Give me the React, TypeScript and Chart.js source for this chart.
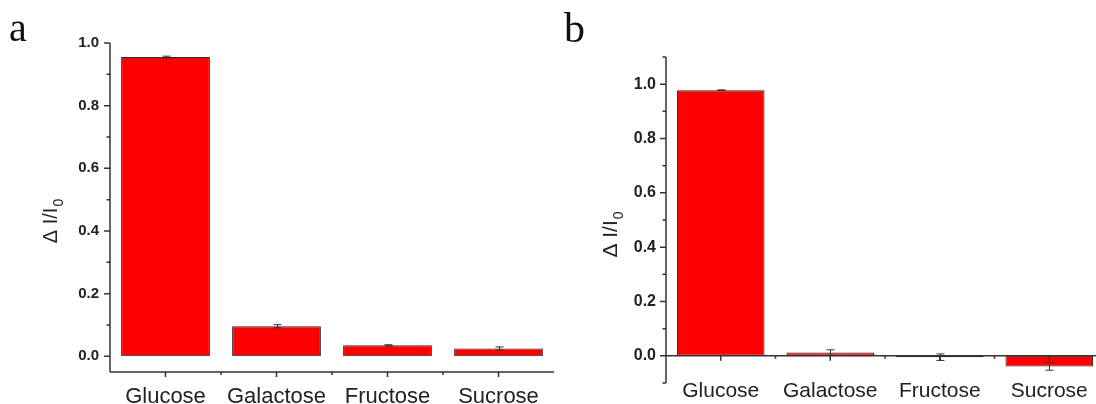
import React, { useEffect, useRef } from "react";
import { Chart, registerables } from "chart.js";

Chart.register(...registerables);

// ---- data ----
const CATEGORIES = ["Glucose", "Galactose", "Fructose", "Sucrose"];
const A_VALUES = [0.955, 0.096, 0.035, 0.025];
const A_ERRORS = [0.003, 0.005, 0.002, 0.005];
const B_VALUES = [0.978, 0.012, -0.005, -0.039];
const B_ERRORS = [0.001, 0.01, 0.012, 0.014];
const A_Y_TICKS = [0, 0.2, 0.4, 0.6, 0.8, 1.0];
const A_Y_MINOR = [0.1, 0.3, 0.5, 0.7, 0.9];
const B_Y_TICKS = [0, 0.2, 0.4, 0.6, 0.8, 1.0];
const B_Y_MINOR = [-0.1, 0.1, 0.3, 0.5, 0.7, 0.9, 1.1];
const Y_TITLE_MAIN = "\u0394 I/I";
const Y_TITLE_SUB = "0";

const SANS = "'Liberation Sans', Arial, sans-serif";
const SERIF = "'Liberation Serif', 'Times New Roman', serif";
const AXIS_COLOR = "#333";

type PanelCfg = {
  values: number[];
  errors: number[];
  yMin: number;
  yMax: number;
  yTicks: number[];
  yMinor: number[];
  xAxisAtZero: boolean;
  padTop: number;
  padRight: number;
  yWidth: number;
  xHeight: number;
  xLabelSize: number;
  xLabelBaseline: number;
  yLabelSize: number;
  yLabelPad: number;
  titleSize: number;
  titleDx: number;
  titleDy: number;
  panelLabel: string;
  panelX: number;
  panelY: number;
  panelSize: number;
};

function makePlugin(cfg: PanelCfg) {
  return {
    id: "sciDecor" + cfg.panelLabel,
    afterDatasetsDraw(chart: any) {
      const ctx = chart.ctx as CanvasRenderingContext2D;
      const area = chart.chartArea;
      const xs = chart.scales.x;
      const ys = chart.scales.y;
      ctx.save();
      // error bars
      const meta = chart.getDatasetMeta(0);
      ctx.strokeStyle = "#333";
      ctx.lineWidth = 1;
      cfg.values.forEach((v, i) => {
        const e = cfg.errors[i];
        const px = Math.round(meta.data[i].x) + 0.5;
        const t = ys.getPixelForValue(v + e);
        const b = ys.getPixelForValue(v - e);
        ctx.beginPath();
        ctx.moveTo(px, t);
        ctx.lineTo(px, b);
        ctx.moveTo(px - 4, t);
        ctx.lineTo(px + 4, t);
        ctx.moveTo(px - 4, b);
        ctx.lineTo(px + 4, b);
        ctx.stroke();
      });
      // axes
      ctx.strokeStyle = AXIS_COLOR;
      ctx.lineWidth = 1.5;
      const x0 = area.left;
      ctx.beginPath();
      ctx.moveTo(x0, area.top);
      ctx.lineTo(x0, area.bottom);
      cfg.yTicks.forEach((v) => {
        const p = ys.getPixelForValue(v);
        ctx.moveTo(x0 - 6, p);
        ctx.lineTo(x0, p);
      });
      cfg.yMinor.forEach((v) => {
        const p = ys.getPixelForValue(v);
        ctx.moveTo(x0 - 3.5, p);
        ctx.lineTo(x0, p);
      });
      const yAx = cfg.xAxisAtZero ? ys.getPixelForValue(0) : area.bottom;
      ctx.moveTo(area.left, yAx);
      ctx.lineTo(area.right, yAx);
      const n = CATEGORIES.length;
      for (let i = 0; i < n; i++) {
        const p = xs.getPixelForValue(i);
        ctx.moveTo(p, yAx);
        ctx.lineTo(p, yAx + 5);
        if (i < n - 1) {
          const m = (p + xs.getPixelForValue(i + 1)) / 2;
          ctx.moveTo(m, yAx);
          ctx.lineTo(m, yAx + 3);
        }
      }
      ctx.stroke();
      // category labels
      ctx.fillStyle = "#222";
      ctx.font = `${cfg.xLabelSize}px ${SANS}`;
      ctx.textAlign = "center";
      ctx.textBaseline = "alphabetic";
      CATEGORIES.forEach((c, i) => {
        ctx.fillText(c, xs.getPixelForValue(i), cfg.xLabelBaseline);
      });
      // y title
      ctx.font = `${cfg.titleSize}px ${SANS}`;
      const wMain = ctx.measureText(Y_TITLE_MAIN).width;
      const subSize = Math.round(cfg.titleSize * 0.68);
      ctx.font = `${subSize}px ${SANS}`;
      const wSub = ctx.measureText(Y_TITLE_SUB).width;
      const total = wMain + wSub;
      ctx.translate(area.left + cfg.titleDx, (area.top + area.bottom) / 2 + cfg.titleDy);
      ctx.rotate(-Math.PI / 2);
      ctx.textBaseline = "alphabetic";
      ctx.textAlign = "left";
      ctx.font = `${cfg.titleSize}px ${SANS}`;
      ctx.fillText(Y_TITLE_MAIN, -total / 2, 0);
      ctx.font = `${subSize}px ${SANS}`;
      ctx.fillText(Y_TITLE_SUB, -total / 2 + wMain + 1, cfg.titleSize * 0.28);
      ctx.restore();
      // panel label
      ctx.save();
      ctx.fillStyle = "#111";
      ctx.font = `${cfg.panelSize}px ${SERIF}`;
      ctx.textBaseline = "alphabetic";
      ctx.textAlign = "left";
      ctx.fillText(cfg.panelLabel, cfg.panelX, cfg.panelY);
      ctx.restore();
    },
  };
}

function buildChart(canvas: HTMLCanvasElement, cfg: PanelCfg) {
  return new Chart(canvas, {
    type: "bar",
    data: {
      labels: CATEGORIES,
      datasets: [
        {
          data: cfg.values,
          backgroundColor: "#ff0000",
          borderColor: "#2a2a2a",
          borderWidth: 1,
          borderSkipped: false,
          barPercentage: 0.8,
          categoryPercentage: 1,
        },
      ],
    },
    options: {
      animation: false,
      responsive: false,
      devicePixelRatio: 1,
      layout: { padding: { top: cfg.padTop, right: cfg.padRight, left: 0, bottom: 0 } },
      plugins: { legend: { display: false }, tooltip: { enabled: false }, title: { display: false } },
      scales: {
        x: {
          type: "category",
          grid: { display: false, drawTicks: false },
          border: { display: false },
          ticks: { display: false },
          afterFit: (s: any) => {
            s.height = cfg.xHeight;
          },
        },
        y: {
          type: "linear",
          min: cfg.yMin,
          max: cfg.yMax,
          grid: { display: false, drawTicks: false },
          border: { display: false },
          ticks: {
            color: "#222",
            font: { family: SANS, size: cfg.yLabelSize, weight: "bold" },
            padding: cfg.yLabelPad,
            callback: (v: any) => Math.abs(Number(v)).toFixed(1),
          },
          afterBuildTicks: (s: any) => {
            s.ticks = cfg.yTicks.map((v) => ({ value: v }));
          },
          afterFit: (s: any) => {
            s.width = cfg.yWidth;
          },
        },
      },
    },
    plugins: [makePlugin(cfg)],
  } as any);
}

const CFG_A: PanelCfg = {
  values: A_VALUES,
  errors: A_ERRORS,
  yMin: -0.05,
  yMax: 1.0,
  yTicks: A_Y_TICKS,
  yMinor: A_Y_MINOR,
  xAxisAtZero: false,
  padTop: 43,
  padRight: 6,
  yWidth: 110,
  xHeight: 32,
  xLabelSize: 22,
  xLabelBaseline: 403,
  yLabelSize: 15,
  yLabelPad: 11,
  titleSize: 20,
  titleDx: -53,
  titleDy: 14,
  panelLabel: "a",
  panelX: 9,
  panelY: 41,
  panelSize: 40,
};

const CFG_B: PanelCfg = {
  values: B_VALUES,
  errors: B_ERRORS,
  yMin: -0.1,
  yMax: 1.1,
  yTicks: B_Y_TICKS,
  yMinor: B_Y_MINOR,
  xAxisAtZero: true,
  padTop: 57,
  padRight: 16,
  yWidth: 106,
  xHeight: 21,
  xLabelSize: 21,
  xLabelBaseline: 397,
  yLabelSize: 16,
  yLabelPad: 10,
  titleSize: 21,
  titleDx: -49,
  titleDy: 15,
  panelLabel: "b",
  panelX: 4,
  panelY: 42,
  panelSize: 42,
};

export default function App() {
  const refA = useRef<HTMLCanvasElement | null>(null);
  const refB = useRef<HTMLCanvasElement | null>(null);
  useEffect(() => {
    const a = buildChart(refA.current!, CFG_A);
    const b = buildChart(refB.current!, CFG_B);
    return () => {
      a.destroy();
      b.destroy();
    };
  }, []);
  return (
    <div
      style={{
        position: "fixed",
        left: 0,
        top: 0,
        width: 1096,
        height: 404,
        overflow: "hidden",
        background: "#fff",
      }}
    >
      <canvas ref={refA} width={560} height={404} style={{ position: "absolute", left: 0, top: 0 }} />
      <canvas ref={refB} width={560} height={404} style={{ position: "absolute", left: 560, top: 0 }} />
    </div>
  );
}
